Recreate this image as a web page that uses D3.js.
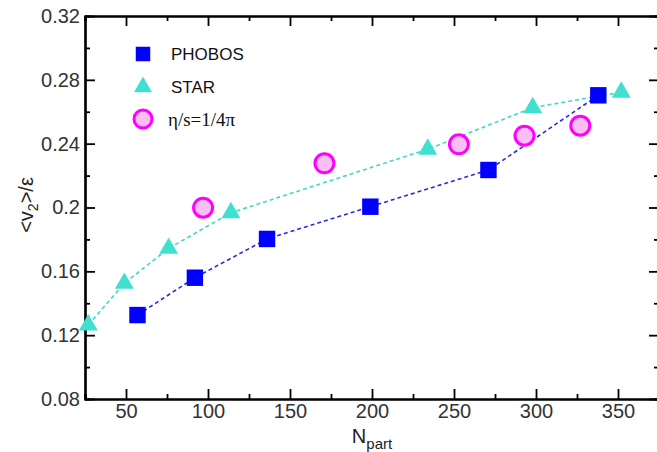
<!DOCTYPE html>
<html lang="en">
	<head>
		<meta charset="UTF-8" />
		<title>v2 over eccentricity</title>
		<style>
			body { margin: 0; background: #fff; }
			svg text { font-family: 'Liberation Sans', Arial, sans-serif; }
		</style>
	</head>
	<body>
		<div id="chart"></div>
		<script src="https://cdnjs.cloudflare.com/ajax/libs/d3/7.8.5/d3.min.js"></script>
		<script>
			// values
			var phobosN = [57, 92, 136, 199, 271, 338];
			var phobosV = [0.1326, 0.156, 0.1803, 0.2005, 0.2235, 0.2703];
			var starN = [27, 49, 76, 114, 234, 298, 352];
			var starV = [0.1264, 0.1525, 0.1744, 0.1967, 0.2365, 0.2626, 0.2722];
			var hydroN = [97, 171, 253, 293, 327];
			var hydroV = [0.1999, 0.2277, 0.2396, 0.245, 0.2513];
			var xTicks = [50, 100, 150, 200, 250, 300, 350];
			var yTicks = [0.08, 0.12, 0.16, 0.2, 0.24, 0.28, 0.32];
			var yTickLabels = ['0.08', '0.12', '0.16', '0.2', '0.24', '0.28', '0.32'];

			var width = 657;
			var height = 452;
			// plot frame (note: "top" is taken by window.top)
			var pLeft = 85, pRight = 659, pTop = 16, pBottom = 399;

			var svg = d3
				.select('#chart')
				.append('svg')
				.attr('width', width)
				.attr('height', height);

			var x = d3.scaleLinear().domain([25, 375]).range([pLeft, pRight]);
			var y = d3.scaleLinear().domain([0.08, 0.32]).range([pBottom, pTop]);

			var minorX = d3.range(25, 376, 25).filter(function (d) {
				return xTicks.indexOf(d) < 0;
			});
			var minorY = [0.1, 0.14, 0.18, 0.22, 0.26, 0.3];

			// axes on all four sides, ticks pointing inward
			function addAxis(axis, tx, ty) {
				var g = svg
					.append('g')
					.attr('transform', 'translate(' + tx + ',' + ty + ')')
					.call(axis);
				g.select('.domain').attr('stroke-width', 2.2);
				g.selectAll('.tick line').attr('stroke-width', 1.8);
				g.selectAll('text')
					.attr('font-size', 20)
					.attr('fill', '#333');
				return g;
			}

			addAxis(d3.axisBottom(x).tickValues(minorX).tickSize(-5).tickFormat(''), 0, pBottom);
			addAxis(d3.axisTop(x).tickValues(minorX).tickSize(-5).tickFormat(''), 0, pTop);
			addAxis(d3.axisLeft(y).tickValues(minorY).tickSize(-5).tickFormat(''), pLeft, 0);
			addAxis(d3.axisRight(y).tickValues(minorY).tickSize(-5).tickFormat(''), pRight, 0);

			var bx = addAxis(
				d3.axisBottom(x).tickValues(xTicks).tickSize(-10).tickSizeOuter(0).tickPadding(5).tickFormat(d3.format('d')),
				0,
				pBottom
			);
			bx.selectAll('text').attr('dy', '0.71em');
			addAxis(d3.axisTop(x).tickValues(xTicks).tickSize(-10).tickSizeOuter(0).tickFormat(''), 0, pTop);
			addAxis(
				d3.axisLeft(y).tickValues(yTicks).tickSize(-10).tickSizeOuter(0).tickPadding(5).tickFormat(function (d, i) {
					return yTickLabels[i];
				}),
				pLeft,
				0
			);
			addAxis(d3.axisRight(y).tickValues(yTicks).tickSize(-10).tickSizeOuter(0).tickFormat(''), pRight, 0);

			// axis titles
			var xt = svg
				.append('text')
				.attr('x', 372)
				.attr('y', 443)
				.attr('text-anchor', 'middle')
				.attr('font-size', 20)
				.attr('fill', '#222');
			xt.append('tspan').text('N');
			xt.append('tspan').attr('font-size', 15).attr('dy', 6).text('part');

			var yt = svg
				.append('text')
				.attr('transform', 'translate(33,205) rotate(-90)')
				.attr('text-anchor', 'middle')
				.attr('font-size', 20)
				.attr('fill', '#222');
			yt.append('tspan').text('<v');
			yt.append('tspan').attr('font-size', 14).attr('dy', 5).text('2');
			yt.append('tspan').attr('dy', -5).text('>/ε');

			var line = d3
				.line()
				.x(function (d) { return x(d[0]); })
				.y(function (d) { return y(d[1]); });

			var phobos = d3.zip(phobosN, phobosV);
			var star = d3.zip(starN, starV);
			var hydro = d3.zip(hydroN, hydroV);

			svg.append('path')
				.attr('d', line(star))
				.attr('fill', 'none')
				.attr('stroke', '#40d8c8')
				.attr('stroke-width', 1.6)
				.attr('stroke-dasharray', '4,3');
			svg.append('path')
				.attr('d', line(phobos))
				.attr('fill', 'none')
				.attr('stroke', '#2a2ae6')
				.attr('stroke-width', 1.6)
				.attr('stroke-dasharray', '4,3');

			var tri = d3.symbol().type(d3.symbolTriangle).size(155);
			var sq = d3.symbol().type(d3.symbolSquare).size(270);

			svg.selectAll('.star')
				.data(star)
				.enter()
				.append('path')
				.attr('class', 'star')
				.attr('d', tri)
				.attr('fill', '#40e0d0')
				.attr('transform', function (d) {
					return 'translate(' + x(d[0]) + ',' + y(d[1]) + ')';
				});
			svg.selectAll('.phobos')
				.data(phobos)
				.enter()
				.append('path')
				.attr('class', 'phobos')
				.attr('d', sq)
				.attr('fill', '#0000ff')
				.attr('transform', function (d) {
					return 'translate(' + x(d[0]) + ',' + y(d[1]) + ')';
				});
			svg.selectAll('.hydro')
				.data(hydro)
				.enter()
				.append('circle')
				.attr('class', 'hydro')
				.attr('cx', function (d) { return x(d[0]); })
				.attr('cy', function (d) { return y(d[1]); })
				.attr('r', 9.5)
				.attr('fill', '#f8c0f2')
				.attr('stroke', '#ff00ff')
				.attr('stroke-width', 3);

			// legend
			var legend = svg.append('g');
			legend.append('path')
				.attr('d', d3.symbol().type(d3.symbolSquare).size(210))
				.attr('fill', '#0000ff')
				.attr('transform', 'translate(143,54)');
			legend.append('path')
				.attr('d', d3.symbol().type(d3.symbolTriangle).size(140))
				.attr('fill', '#40e0d0')
				.attr('transform', 'translate(143,87)');
			legend.append('circle')
				.attr('cx', 143)
				.attr('cy', 119)
				.attr('r', 9)
				.attr('fill', '#f8c0f2')
				.attr('stroke', '#ff00ff')
				.attr('stroke-width', 3);
			legend.append('text')
				.attr('x', 171)
				.attr('y', 60)
				.attr('font-size', 17)
				.attr('fill', '#111')
				.text('PHOBOS');
			legend.append('text')
				.attr('x', 171)
				.attr('y', 93)
				.attr('font-size', 17)
				.attr('fill', '#111')
				.text('STAR');
			legend.append('text')
				.attr('x', 168)
				.attr('y', 126)
				.attr('font-size', 19)
				.attr('fill', '#111')
				.style('font-family', "'Liberation Serif', serif")
				.text('η/s=1/4π');
		</script>
	</body>
</html>
